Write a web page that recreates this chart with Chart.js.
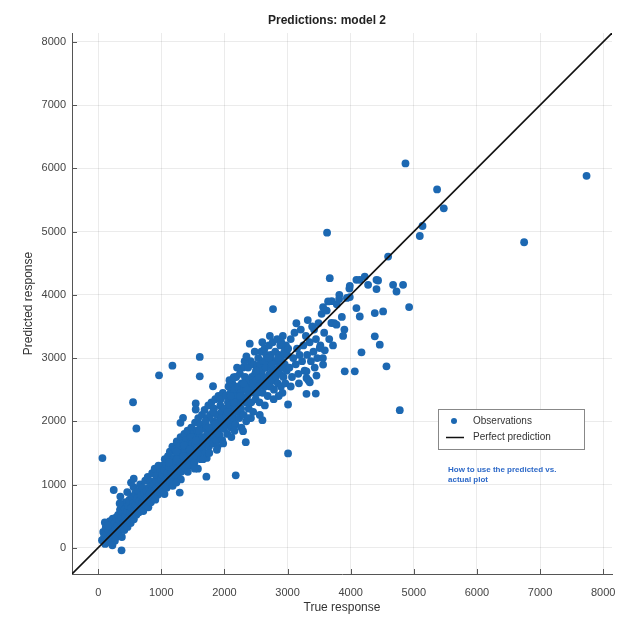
<!DOCTYPE html>
<html>
<head>
<meta charset="utf-8">
<script src="https://cdn.jsdelivr.net/npm/chart.js@4.4.1/dist/chart.umd.min.js"></script>
<style>
  html, body { margin: 0; padding: 0; background: #fff; }
  #wrap { width: 619px; height: 617px; position: relative; }
</style>
</head>
<body>
<div id="wrap"><canvas id="chart" width="619" height="617"></canvas></div>
<script>
// axis setup (same limits on both axes, like the MATLAB plot)
const axisMin = -415;
const axisMax = 8140;
const tickValues = [0, 1000, 2000, 3000, 4000, 5000, 6000, 7000, 8000];

const titleText = 'Predictions: model 2';
const xLabel = 'True response';
const yLabel = 'Predicted response';
const noteLines = ['How to use the predicted vs.', 'actual plot'];

// observations as [true, predicted]
const obsLow = [
  [60,120],[80,250],[95,180],[110,60],[120,320],[130,210],[140,380],[150,140],[165,270],[175,90],
  [185,420],[195,200],[210,330],[220,150],[230,460],[240,260],[255,380],[265,110],[275,300],[285,480],
  [295,220],[105,400],[155,350],[225,40],[280,170],
  [305,350],[315,520],[325,250],[335,430],[345,600],[355,310],[365,480],[375,170],[385,560],[395,390],
  [405,650],[415,280],[425,500],[435,720],[445,420],[455,580],[465,330],[475,660],[485,480],[495,760],
  [505,560],[515,390],[525,640],[535,810],[545,500],[555,700],[565,450],[575,590],[585,860],[595,680],
  [340,700],[460,880],[560,960],
  [605,520],[615,780],[625,650],[635,900],[645,560],[655,740],[665,1000],[675,620],[685,830],[695,700],
  [705,950],[715,580],[725,870],[735,760],[745,1060],[755,680],[765,900],[775,800],[785,1120],[795,640],
  [805,950],[815,850],[825,1050],[835,720],[845,980],[855,1180],[865,800],[875,1000],[885,900],[895,1250],
  [905,760],[915,1080],[925,950],[935,1150],[945,840],[955,1300],[965,1020],[975,880],[985,1200],[995,1080]
];

const obsMid = [
  [1005,920],[1015,1150],[1025,1300],[1035,1000],[1045,1230],[1055,1400],[1065,1080],[1075,1320],[1085,950],[1095,1180],
  [1105,1450],[1115,1100],[1125,1280],[1135,1520],[1145,1030],[1155,1350],[1165,1200],[1175,1600],[1185,1120],[1195,1420],
  [1205,1300],[1215,1550],[1225,1150],[1235,1380],[1245,1680],[1255,1250],[1265,1480],[1275,1100],[1285,1600],[1295,1350],
  [1305,1750],[1315,1200],[1325,1500],[1335,1420],[1345,1650],[1355,1300],[1365,1800],[1375,1550],[1385,1250],[1395,1700],
  [1405,1450],[1415,1850],[1425,1380],[1435,1600],[1445,1300],[1455,1750],[1465,1500],[1475,1900],[1485,1420],[1495,1650],
  [1505,1550],[1515,1800],[1525,1350],[1535,1980],[1545,1650],[1555,1450],[1565,1850],[1575,1600],[1585,2050],[1595,1500],
  [1605,1750],[1615,1950],[1625,1400],[1635,1700],[1645,2100],[1655,1580],[1665,1880],[1675,1750],[1685,2180],[1695,1500],
  [1705,1950],[1715,1650],[1725,2050],[1735,1800],[1745,2250],[1755,1600],[1765,1900],[1775,2100],[1785,1700],[1795,2300],
  [1805,1850],[1815,1650],[1825,2000],[1835,2200],[1845,1750],[1855,2350],[1865,1950],[1875,1700],[1885,2100],[1895,1850],
  [1905,2400],[1915,2000],[1925,1780],[1935,2250],[1945,1900],[1955,2150],[1965,1700],[1975,2450],[1985,2050],[1995,1880],
  [1580,1250],[1720,1420],[1890,1600],
  [1050,850],[1120,1350],[1180,980],[1240,1520],[1310,1080],[1360,1620],[1420,1200],[1480,1750],[1530,1250],[1600,1850],
  [1660,1400],[1700,2000],[1760,1500],[1820,2150],[1880,1550],[1940,2350],[1980,1650],[1250,1400],[1450,1550],[1650,1750],
  [1850,1950],[1350,1450],[1550,1700],[1750,1900],[1950,2050]
];

const obsHigh = [
  [2005,2200],[2015,1950],[2025,2400],[2035,2100],[2045,1800],[2055,2300],[2065,2550],[2075,2000],[2085,2250],[2095,2450],
  [2105,1900],[2115,2150],[2125,2600],[2135,2350],[2145,2050],[2155,2500],[2165,2250],[2175,1950],[2185,2700],[2195,2400],
  [2205,2150],[2215,2550],[2225,2300],[2235,2050],[2245,2750],[2255,2450],[2265,2200],[2275,2600],[2285,2350],[2295,2850],
  [2305,2100],[2315,2500],[2325,2700],[2335,2300],[2345,2000],[2355,2600],[2365,2400],[2375,2850],[2385,2200],[2395,2650],
  [2405,2450],[2415,2950],[2425,2300],[2435,2700],[2445,2550],[2455,2150],[2465,2900],[2475,2450],[2485,2750],[2495,2350],
  [2110,1750],[2270,1900],[2420,2050],
  [2050,2150],[2150,2300],[2250,2400],[2350,2500],[2450,2600],[2080,2650],[2200,2850],[2320,2950],[2160,1850],[2380,2050],
  [2100,2400],[2300,2600],
  [2505,2650],[2515,2850],[2525,2450],[2535,3000],[2545,2700],[2555,2300],[2565,2900],[2575,2600],[2585,3100],[2595,2800],
  [2605,2450],[2615,2950],[2625,2700],[2635,3150],[2645,2550],[2655,2850],[2665,3050],[2675,2650],[2685,2400],[2695,2950],
  [2705,3200],[2715,2750],[2725,2550],[2735,3050],[2745,2850],[2755,2650],[2765,3250],[2775,2950],[2785,2500],[2795,2800],
  [2805,3100],[2815,2700],[2825,2950],[2835,3300],[2845,2600],[2855,2850],[2865,3050],[2875,2750],[2885,3200],[2895,2550],
  [2905,2950],[2915,2850],[2925,3350],[2935,2700],[2945,3050],[2955,2900],[2965,2600],[2975,3200],[2985,2800],[2995,3050],
  [2640,2250],[2780,2350],[2920,2450],
  [2550,2550],[2650,2950],[2750,2900],[2850,3000],[2950,3100],[2480,3100],[2600,3250],[2720,3350],[2560,2100],[2860,2400],
  [2500,2800],[2700,3000],[2900,3250],
  [3010,3150],[3030,2850],[3050,3300],[3070,2700],[3090,3000],[3110,3400],[3130,2900],[3150,3150],[3170,2750],[3190,3050],
  [3210,3450],[3230,2950],[3250,3200],[3270,2800],[3290,3350],[3310,3050],[3330,2650],[3350,3250],[3370,2950],[3390,3500],
  [3410,3100],[3430,2850],[3450,3300],[3470,3000],[3490,3550],[3050,2550],[3180,2600],[3320,3600],[3420,3450],[3140,3550],
  [3520,3200],[3540,3700],[3580,3400],[3620,3750],[3660,3300],[3700,3900],[3740,3550],[3780,3850],[3820,4000],[3860,3650],
  [3900,3450],[3940,3950],[3980,4100],[3560,3000],[3720,3200],[3880,3350]
];

const obsOutliers = [
  [4868,6077],[7737,5882],[5369,5667],[5475,5367],[5138,5088],[5095,4930],[3626,4983],[6748,4831],[4593,4604],[4223,4289],
  [4091,4237],[4409,4237],[3669,4263],[2770,3774],[4144,4237],[4276,4158],[3986,4142],[4434,4226],[4672,4158],[4830,4158],
  [4726,4052],[4409,4090],[4926,3806],[3817,3932],[3986,3964],[4091,3790],[4144,3657],[4382,3711],[4514,3737],[3563,3806],
  [3642,3895],[3694,3554],[3775,3527],[4382,3343],[4461,3211],[4171,3090],[4567,2869],[3906,2790],[4065,2790],[3510,3159],
  [3590,3122],[3563,2896],[3458,2722],[3300,2790],[4778,2175],
  [1609,3017],[1176,2880],[964,2727],[1609,2711],[1819,2554],[552,2301],[605,1886],[67,1418],[3008,1492],[2179,1145],
  [1714,1124],[2401,3227],[2147,2696],[2348,3027],[3008,2265],[2602,2017],[2295,1844],[2338,1670],[3300,2434],[3447,2438],
  [3300,2686],[3352,2617],[1545,2281],[1545,2186],[1344,2055],[1303,1976],[246,913],[351,809],[520,1030],[563,1093],
  [1239,1030],[1292,872],[370,-40]
];

const perfectLine = [axisMin, axisMax];

const obsColor = 'rgb(28,104,178)';
const observations = [...obsLow, ...obsMid, ...obsHigh, ...obsOutliers].map(p => ({ x: p[0], y: p[1] }));

// small inward ticks + title + legend box + note, drawn after the chart
const extrasPlugin = {
    id: 'extras',
    afterDraw(chart) {
        const ctx = chart.ctx;
        const xs = chart.scales.x;
        const ys = chart.scales.y;
        const area = chart.chartArea;
        ctx.save();

        ctx.strokeStyle = '#555';
        ctx.lineWidth = 1;
        ctx.beginPath();
        tickValues.forEach(v => {
            const px = Math.round(xs.getPixelForValue(v)) + 0.5;
            ctx.moveTo(px, area.bottom);
            ctx.lineTo(px, area.bottom - 5);
            const py = Math.round(ys.getPixelForValue(v)) + 0.5;
            ctx.moveTo(area.left, py);
            ctx.lineTo(area.left + 5, py);
        });
        ctx.stroke();

        // title
        ctx.fillStyle = '#222';
        ctx.font = 'bold 12px "Liberation Sans", Arial, sans-serif';
        ctx.textAlign = 'center';
        ctx.textBaseline = 'middle';
        ctx.fillText(titleText, 327, 21);

        // legend
        const ds = chart.data.datasets;
        ctx.fillStyle = '#fff';
        ctx.fillRect(438.5, 409.5, 146, 40);
        ctx.strokeStyle = '#888';
        ctx.strokeRect(438.5, 409.5, 146, 40);
        ctx.fillStyle = obsColor;
        ctx.beginPath();
        ctx.arc(454, 421, 3, 0, Math.PI * 2);
        ctx.fill();
        ctx.strokeStyle = '#111';
        ctx.lineWidth = 1.5;
        ctx.beginPath();
        ctx.moveTo(446, 437.5);
        ctx.lineTo(464, 437.5);
        ctx.stroke();
        ctx.fillStyle = '#333';
        ctx.font = '10px "Liberation Sans", Arial, sans-serif';
        ctx.textAlign = 'left';
        ctx.fillText(ds[1].label, 473, 421);
        ctx.fillText(ds[0].label, 473, 437.5);

        // note
        ctx.fillStyle = 'rgb(45,105,200)';
        ctx.font = 'bold 8px "Liberation Sans", Arial, sans-serif';
        ctx.fillText(noteLines[0], 448, 470);
        ctx.fillText(noteLines[1], 448, 480);

        ctx.restore();
    }
};

const tickFont = { family: '"Liberation Sans", Arial, sans-serif', size: 11 };

new Chart(document.getElementById('chart'), {
    data: {
        datasets: [
            {
                type: 'line',
                label: 'Perfect prediction',
                data: perfectLine.map(v => ({ x: v, y: v })),
                borderColor: '#111',
                borderWidth: 1.6,
                pointRadius: 0,
                fill: false,
                order: 0
            },
            {
                type: 'scatter',
                label: 'Observations',
                data: observations,
                backgroundColor: obsColor,
                borderWidth: 0,
                pointRadius: 3.9,
                order: 1
            }
        ]
    },
    options: {
        responsive: false,
        animation: false,
        layout: { padding: { top: 33, right: 7, left: 0, bottom: 0 } },
        plugins: {
            legend: { display: false },
            title: { display: false },
            tooltip: { enabled: false }
        },
        scales: {
            x: {
                type: 'linear',
                min: axisMin,
                max: axisMax,
                afterBuildTicks: s => { s.ticks = tickValues.map(v => ({ value: v })); },
                afterFit: s => { s.height = 43; s.paddingLeft = 0; s.paddingRight = 0; },
                ticks: { color: '#444', font: tickFont, padding: 12, callback: v => String(v), maxRotation: 0 },
                grid: { color: 'rgba(0,0,0,0.08)', drawTicks: false },
                border: { display: true, color: '#555', width: 1 },
                title: { display: true, text: xLabel, color: '#333', font: { family: tickFont.family, size: 12 }, padding: { top: 0, bottom: 2 } }
            },
            y: {
                type: 'linear',
                min: axisMin,
                max: axisMax,
                afterBuildTicks: s => { s.ticks = tickValues.map(v => ({ value: v })); },
                afterFit: s => { s.width = 72; s.paddingTop = 0; s.paddingBottom = 0; },
                ticks: { color: '#444', font: tickFont, padding: 6, callback: v => String(v) },
                grid: { color: 'rgba(0,0,0,0.08)', drawTicks: false },
                border: { display: true, color: '#555', width: 1 },
                title: { display: true, text: yLabel, color: '#333', font: { family: tickFont.family, size: 12 }, padding: { top: 21, bottom: 0 } }
            }
        }
    },
    plugins: [extrasPlugin]
});
</script>
</body>
</html>
